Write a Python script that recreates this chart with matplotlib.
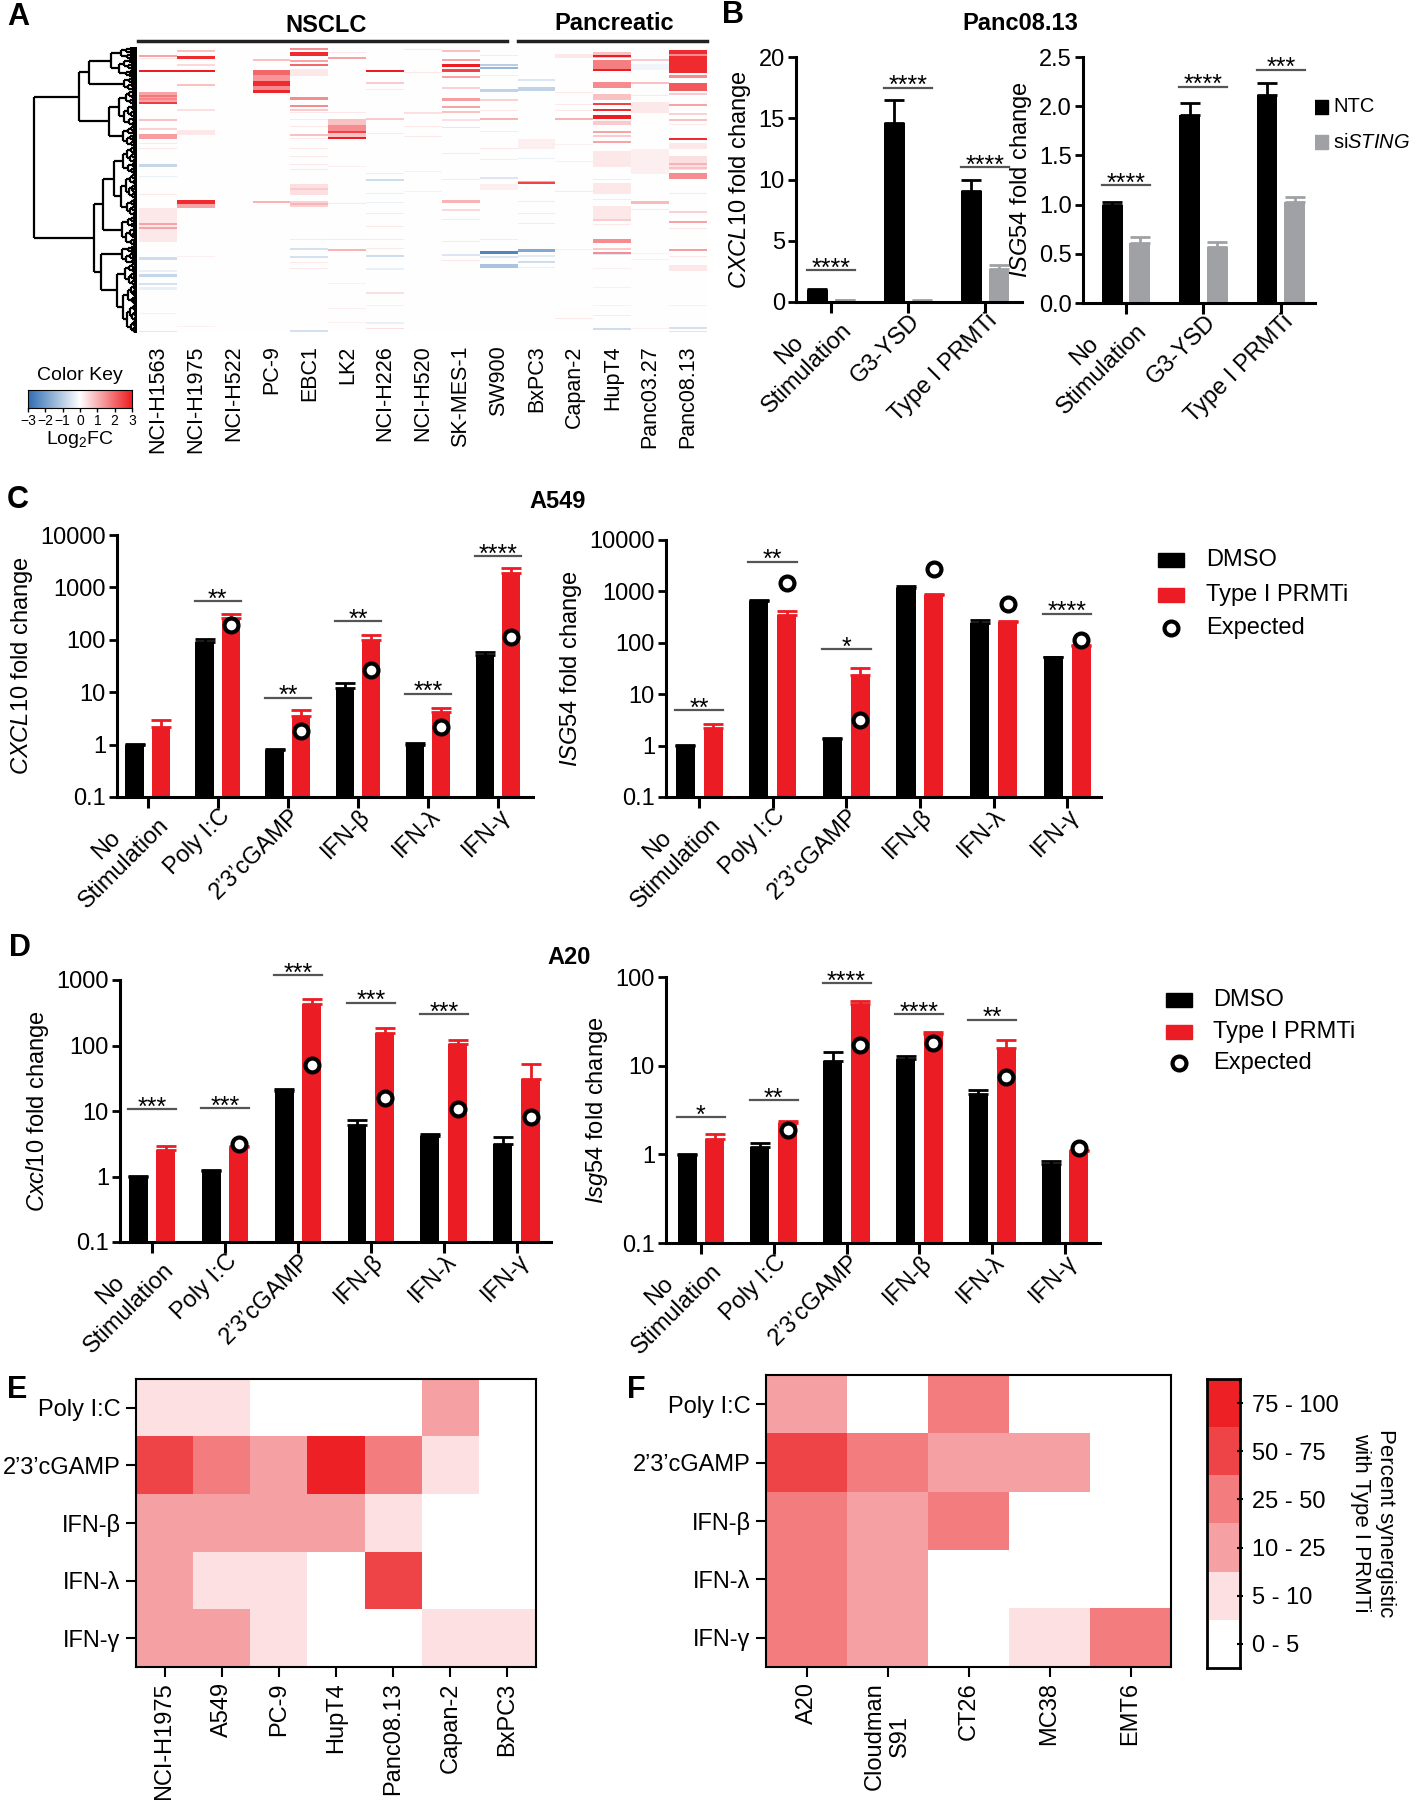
import numpy as np
import matplotlib
matplotlib.use('Agg')
import matplotlib.pyplot as plt
from matplotlib.colors import LinearSegmentedColormap, ListedColormap
from matplotlib.collections import LineCollection
from matplotlib.patches import Rectangle
from matplotlib.transforms import ScaledTranslation

plt.rcParams['font.family'] = ['Liberation Sans', 'DejaVu Sans']
plt.rcParams['mathtext.fontset'] = 'custom'
plt.rcParams['mathtext.rm'] = 'Liberation Sans'
plt.rcParams['mathtext.it'] = 'Liberation Sans:italic'
plt.rcParams['mathtext.bf'] = 'Liberation Sans:bold'

# ---------------- DATA ----------------
# Panel A: heatmap of log2FC, bands per cell line (row_start, row_end, value)
A_CELLS = ['NCI-H1563', 'NCI-H1975', 'NCI-H522', 'PC-9', 'EBC1', 'LK2', 'NCI-H226',
           'NCI-H520', 'SK-MES-1', 'SW900', 'BxPC3', 'Capan-2', 'HupT4', 'Panc03.27', 'Panc08.13']
N_ROWS = 288
A_BANDS = {
    'NCI-H1563': [(8, 9, 1.2), (11, 11, 0.3), (23, 24, 3.0), (45, 54, 1.2), (48, 49, 1.8), (51, 52, 1.6),
                  (55, 56, 2.6), (73, 74, 0.8), (82, 83, 0.6), (88, 92, 1.3), (97, 97, 0.3), (102, 102, 0.3),
                  (118, 120, -0.8), (130, 130, -0.3), (148, 148, 0.3), (162, 195, 0.3), (177, 178, 1.2),
                  (181, 182, 1.2), (211, 213, -0.7), (225, 226, -0.3), (229, 231, -0.8), (238, 239, -0.6),
                  (242, 244, -0.3), (268, 268, 0.2), (286, 286, 0.4)],
    'NCI-H1975': [(3, 4, 0.8), (9, 11, 2.8), (17, 18, 0.5), (23, 24, 3.0), (37, 38, 0.8), (62, 63, 0.4),
                  (84, 88, 0.3), (154, 157, 2.8), (158, 161, 1.2), (210, 210, 0.2), (281, 281, 0.2)],
    'NCI-H522': [],
    'PC-9': [(12, 13, 0.8), (23, 27, 2.0), (28, 33, 1.4), (34, 38, 2.8), (39, 42, 1.5), (43, 45, 2.9),
             (155, 156, 1.0)],
    'EBC1': [(1, 2, 1.5), (5, 8, 2.8), (13, 14, 1.2), (17, 18, 2.0), (22, 28, 0.3), (50, 52, 1.5),
             (58, 59, 1.5), (62, 63, 0.7), (65, 65, 0.3), (73, 73, 0.3), (80, 80, 0.3), (88, 89, 0.8),
             (92, 92, 0.3), (102, 102, 0.3), (110, 110, 0.3), (118, 118, 0.3), (123, 123, 0.3),
             (138, 148, 0.4), (142, 143, 0.7), (155, 160, 0.6), (157, 158, 1.0), (193, 193, -0.3),
             (202, 203, -0.6), (210, 211, -0.6), (217, 217, 0.3), (223, 223, 0.3), (285, 286, -0.6)],
    'LK2': [(5, 5, 0.3), (10, 11, 1.2), (65, 65, 0.3), (73, 78, 0.8), (79, 84, 1.5), (85, 86, 2.5),
            (87, 90, 0.8), (91, 92, 3.0), (120, 120, 0.2), (157, 157, 0.3), (193, 193, 0.3),
            (203, 204, 1.0), (238, 238, 0.2), (263, 263, 0.2), (277, 277, 0.2)],
    'NCI-H226': [(23, 24, 3.0), (35, 36, 0.7), (42, 42, 0.3), (72, 73, 0.7), (87, 87, 0.3), (127, 127, 0.3),
                 (133, 134, -0.7), (147, 147, 0.3), (156, 156, -0.3), (167, 167, 0.3), (180, 180, 0.3),
                 (193, 193, -0.3), (202, 202, 0.3), (209, 210, -0.7), (223, 224, -0.3), (247, 248, 0.4),
                 (260, 260, 0.2), (277, 278, -0.3), (283, 283, 0.4)],
    'NCI-H520': [(2, 2, 0.3), (25, 25, 0.3), (65, 66, 0.4), (80, 80, 0.3), (90, 90, 0.3), (125, 125, 0.2),
                 (145, 145, 0.2)],
    'SK-MES-1': [(3, 4, 0.8), (12, 13, 1.2), (17, 19, 3.0), (22, 24, 2.5), (29, 30, 1.2), (40, 41, 0.6),
                 (51, 53, 1.3), (59, 60, 1.2), (64, 65, 0.8), (73, 74, 0.4), (81, 81, 0.4), (107, 107, 0.3),
                 (133, 133, 0.3), (154, 156, 1.0), (163, 164, 0.5), (173, 173, 0.3), (195, 195, 0.3),
                 (208, 209, -0.5), (214, 214, 0.3)],
    'SW900': [(8, 8, 0.3), (17, 18, -1.0), (20, 21, -1.5), (28, 28, -0.3), (42, 44, -0.9), (52, 53, 0.6),
              (63, 63, 0.3), (72, 73, 1.0), (85, 85, -0.3), (102, 102, 0.3), (113, 113, -0.3),
              (131, 132, -0.5), (138, 143, 0.2), (193, 193, 0.3), (205, 207, -2.5), (210, 211, -0.5),
              (219, 222, -1.2)],
    'BxPC3': [(32, 33, -0.5), (40, 43, -0.9), (93, 102, 0.2), (112, 112, -0.3), (135, 135, 1.2),
              (136, 137, 2.5), (155, 155, 0.3), (167, 167, 0.3), (177, 177, 0.3), (203, 205, -1.8),
              (209, 210, -0.4), (215, 217, -0.7), (222, 222, -0.3)],
    'Capan-2': [(7, 10, 0.3), (45, 45, 0.3), (57, 57, 0.3), (63, 63, 0.3), (72, 73, 1.0), (98, 98, 0.2),
                (115, 115, 0.2), (145, 145, 0.3), (203, 203, 0.2), (273, 273, 0.3)],
    'HupT4': [(5, 10, 0.8), (8, 9, 3.0), (13, 21, 1.7), (22, 23, 3.0), (35, 40, 1.5), (47, 52, 0.8),
              (56, 57, 2.5), (62, 63, 2.8), (68, 72, 3.0), (75, 78, 0.7), (85, 86, 1.2), (89, 90, 0.7),
              (95, 96, 1.2), (105, 120, 0.3), (133, 133, 0.3), (137, 147, 0.3), (153, 153, 0.3),
              (160, 172, 0.3), (173, 174, 0.7), (178, 178, 0.3), (193, 196, 1.5), (202, 203, 0.7),
              (206, 207, 1.5), (208, 208, -0.4), (223, 223, 0.2), (242, 242, 0.2), (260, 260, 0.2),
              (270, 270, -0.3), (283, 284, -0.7)],
    'Panc03.27': [(12, 13, 0.7), (17, 22, -0.2), (35, 36, 0.8), (48, 48, 0.3), (55, 65, 0.3),
                  (103, 127, 0.2), (155, 157, 0.9), (163, 163, 0.3), (207, 207, 0.2), (213, 213, 0.2),
                  (283, 283, 0.2)],
    'Panc08.13': [(3, 25, 2.8), (7, 8, 1.5), (28, 30, 1.5), (36, 43, 2.2), (46, 47, 0.7), (57, 58, 1.2),
                  (66, 67, 0.6), (73, 74, 0.8), (78, 78, 0.3), (92, 93, 2.8), (97, 102, 0.3),
                  (110, 123, 0.4), (117, 118, 1.0), (121, 122, 0.8), (127, 132, 1.5), (147, 147, 0.3),
                  (165, 166, 0.6), (175, 176, 1.2), (182, 182, 0.3), (203, 204, 1.3), (210, 210, 0.3),
                  (215, 215, 0.3), (220, 225, 0.3), (260, 260, 0.2), (282, 283, -0.6), (286, 286, -0.5)],
}
# dendrogram: top-level clusters (row ranges, heights)
A_DENDRO = ('n', 101,
            ('n', 57,
             ('n', 47, ('r', 0, 30, 26), ('r', 30, 44, 13)),
             ('n', 27, ('r', 44, 80, 18), ('r', 80, 100, 14))),
            ('n', 42,
             ('n', 33, ('r', 100, 170, 23), ('r', 170, 200, 15)),
             ('n', 35, ('r', 200, 218, 15),
              ('n', 20, ('r', 218, 240, 12), ('r', 240, 288, 14)))))

# Panel B (Panc08.13)
B_CATS = ['No\nStimulation', 'G3-YSD', 'Type I PRMTi']
B_CXCL10_NTC = [1.0, 14.6, 9.1]
B_CXCL10_NTC_ERR = [0.08, 1.85, 0.9]
B_CXCL10_SI = [0.15, 0.1, 2.7]
B_CXCL10_SI_ERR = [0.04, 0.03, 0.35]
B_CXCL10_SIG_Y = [2.6, 17.5, 11.0]
B_CXCL10_SIG = ['****', '****', '****']
B_ISG54_NTC = [1.0, 1.91, 2.11]
B_ISG54_NTC_ERR = [0.03, 0.12, 0.13]
B_ISG54_SI = [0.61, 0.57, 1.03]
B_ISG54_SI_ERR = [0.06, 0.05, 0.05]
B_ISG54_SIG_Y = [1.2, 2.2, 2.37]
B_ISG54_SIG = ['****', '****', '***']

# Panels C / D
STIM = ['No\nStimulation', 'Poly I:C', '2\u20193\u2019cGAMP', 'IFN-\u03b2', 'IFN-\u03bb', 'IFN-\u03b3']
NAN = np.nan
C_CXCL10_DMSO = [1.0, 89, 0.78, 11.8, 0.99, 51]
C_CXCL10_DMSO_ERR = [0.03, 13, 0.04, 3.2, 0.1, 8]
C_CXCL10_PRMT = [2.2, 257, 3.5, 99, 4.1, 1905]
C_CXCL10_PRMT_ERR = [0.8, 52, 1.0, 24, 0.8, 400]
C_CXCL10_EXP = [NAN, 195, 1.8, 26, 2.2, 115]
C_CXCL10_SIG_Y = [NAN, 540, 7.9, 230, 9.4, 3900]
C_CXCL10_SIG = ['', '**', '**', '**', '***', '****']

C_ISG54_DMSO = [1.0, 660, 1.37, 1150, 245, 52]
C_ISG54_DMSO_ERR = [0.02, 30, 0.05, 150, 30, 2]
C_ISG54_PRMT = [2.2, 350, 23.5, 870, 253, 87]
C_ISG54_PRMT_ERR = [0.4, 70, 9.5, 20, 8, 3]
C_ISG54_EXP = [NAN, 1470, 3.1, 2700, 560, 115]
C_ISG54_SIG_Y = [4.9, 3800, 76, NAN, NAN, 370]
C_ISG54_SIG = ['**', '**', '*', '', '', '****']

D_CXCL10_DMSO = [1.0, 1.22, 20.3, 6.15, 4.17, 3.16]
D_CXCL10_DMSO_ERR = [0.02, 0.04, 1.7, 1.15, 0.33, 0.8]
D_CXCL10_PRMT = [2.56, 2.8, 430, 154, 105, 31]
D_CXCL10_PRMT_ERR = [0.38, 0.1, 89, 31, 17, 21]
D_CXCL10_EXP = [NAN, 3.12, 50.6, 15.7, 10.7, 8.05]
D_CXCL10_SIG_Y = [10.8, 11, 1190, 450, 302, NAN]
D_CXCL10_SIG = ['***', '***', '***', '***', '***', '']

D_ISG54_DMSO = [0.99, 1.22, 11.2, 11.9, 4.83, 0.77]
D_ISG54_DMSO_ERR = [0.03, 0.11, 3.1, 0.9, 0.47, 0.08]
D_ISG54_PRMT = [1.49, 2.26, 50, 22.8, 16, 1.1]
D_ISG54_PRMT_ERR = [0.22, 0.12, 4, 1.0, 3.5, 0.02]
D_ISG54_EXP = [NAN, 1.87, 17, 17.9, 7.4, 1.18]
D_ISG54_SIG_Y = [2.61, 4.06, 85.5, 38, 33, NAN]
D_ISG54_SIG = ['*', '**', '****', '****', '**', '']

# Panels E / F: synergy category (0:0-5, 1:5-10, 2:10-25, 3:25-50, 4:50-75, 5:75-100)
SYN_ROWS = ['Poly I:C', '2\u20193\u2019cGAMP', 'IFN-\u03b2', 'IFN-\u03bb', 'IFN-\u03b3']
CAT_LABELS = ['0 - 5', '5 - 10', '10 - 25', '25 - 50', '50 - 75', '75 - 100']
E_COLS = ['NCI-H1975', 'A549', 'PC-9', 'HupT4', 'Panc08.13', 'Capan-2', 'BxPC3']
E_VALUES = [[1, 1, 0, 0, 0, 2, 0],
            [4, 3, 2, 5, 3, 1, 0],
            [2, 2, 2, 2, 1, 0, 0],
            [2, 1, 1, 0, 4, 0, 0],
            [2, 2, 1, 0, 0, 1, 1]]
F_COLS = ['A20', 'Cloudman\nS91', 'CT26', 'MC38', 'EMT6']
F_VALUES = [[2, 0, 3, 0, 0],
            [4, 3, 2, 2, 0],
            [3, 2, 3, 0, 0],
            [3, 2, 0, 0, 0],
            [3, 2, 0, 1, 3]]

# ---------------- STYLE ----------------
RED = '#ec1c24'
GREY = '#9fa1a4'
CAT_COLORS = ['#ffffff', '#fde0e1', '#f5a0a3', '#f37c7f', '#ef4447', '#ed2026']
HEAT_CMAP = LinearSegmentedColormap.from_list('key', ['#2f6db3', '#ffffff', '#ee1d23'])
FS = 17

W, H = 1416, 1800
fig = plt.figure(figsize=(W / 100, H / 100), dpi=100)


def box(x0, y0, x1, y1):
    return fig.add_axes([x0 / W, 1 - y1 / H, (x1 - x0) / W, (y1 - y0) / H])


ov = fig.add_axes([0, 0, 1, 1])
ov.set_xlim(0, W)
ov.set_ylim(H, 0)
ov.axis('off')

# ---------------- PANEL A ----------------
M = np.zeros((N_ROWS, len(A_CELLS)))
for j, c in enumerate(A_CELLS):
    for s, e, v in A_BANDS[c]:
        M[s:e + 1, j] = v

axh = box(139, 47, 707, 333)
axh.imshow(M, cmap=HEAT_CMAP, vmin=-3, vmax=3, aspect='auto', interpolation='nearest')
axh.set_xticks(range(len(A_CELLS)))
axh.set_xticklabels(A_CELLS, rotation=90, fontsize=15.5, va='top')
axh.tick_params(axis='x', length=0, pad=9)
axh.set_yticks([])
for s in axh.spines.values():
    s.set_visible(False)

# dendrogram
segs = []


def draw_range(a, b, h, depth=0):
    n = b - a
    if n == 1:
        return a + 0.5, 0.0
    frac = 0.4 if depth % 2 == 0 else 0.6
    m = a + min(n - 1, max(1, int(round(n * frac))))
    k1, k2 = m - a, b - m
    h1 = h * (0.45 + 0.4 * k1 / n) if k1 > 1 else 0.0
    h2 = h * (0.45 + 0.4 * k2 / n) if k2 > 1 else 0.0
    y1, hh1 = draw_range(a, m, h1, depth + 1)
    y2, hh2 = draw_range(m, b, h2, depth + 1)
    segs.extend([[(hh1, y1), (h, y1)], [(h, y1), (h, y2)], [(h, y2), (hh2, y2)]])
    return (y1 + y2) / 2, h


def draw_node(node):
    if node[0] == 'r':
        return draw_range(node[1], node[2], node[3])
    _, h, left, right = node
    y1, h1 = draw_node(left)
    y2, h2 = draw_node(right)
    segs.extend([[(h1, y1), (h, y1)], [(h, y1), (h, y2)], [(h, y2), (h2, y2)]])
    return (y1 + y2) / 2, h


draw_node(A_DENDRO)
axd = box(31, 47, 137, 333)
axd.add_collection(LineCollection(segs, colors='black', linewidths=1.6))
axd.set_xlim(104, 0)
axd.set_ylim(N_ROWS, 0)
axd.axis('off')

# color key
ck = box(28, 390, 132, 408)
ck.imshow(np.linspace(-3, 3, 256).reshape(1, -1), cmap=HEAT_CMAP, aspect='auto', extent=[-3, 3, 0, 1])
ck.set_xticks(range(-3, 4))
ck.set_xticklabels(['\u22123', '\u22122', '\u22121', '0', '1', '2', '3'], fontsize=10)
ck.tick_params(axis='x', length=3, width=1, pad=1)
ck.set_yticks([])
for s in ck.spines.values():
    s.set_linewidth(0.8)
ov.text(80, 376, 'Color Key', ha='center', va='center', fontsize=14)
ov.text(80, 440, 'Log$_2$FC', ha='center', va='center', fontsize=14)

ov.plot([138, 507], [41, 41], color='#222222', lw=2.5)
ov.plot([518, 707], [41, 41], color='#222222', lw=2.5)
ov.text(326, 25, 'NSCLC', ha='center', va='center', fontsize=17, fontweight='bold')
ov.text(614, 24, 'Pancreatic', ha='center', va='center', fontsize=17, fontweight='bold')


# ---------------- BAR HELPERS ----------------
def bar_panel(ax, v1, e1, v2, e2, c2, xlim, ylim, yticks, ylabels, cats, ylabel,
              exp=None, sig_y=None, sig=None, log=True, off=0.19, width=0.26, half=0.33):
    n = len(v1)
    x = np.arange(n)
    if log:
        ax.set_yscale('log')
    bottom = 1e-3 if log else 0
    ax.bar(x - off, np.array(v1) - bottom, width, bottom=bottom, color='black', zorder=2)
    ax.bar(x + off, np.array(v2) - bottom, width, bottom=bottom, color=c2, zorder=2)
    ax.errorbar(x - off, v1, yerr=[np.zeros(n), e1], fmt='none', ecolor='black', elinewidth=2,
                capsize=7, capthick=2, zorder=1)
    ax.errorbar(x + off, v2, yerr=[np.zeros(n), e2], fmt='none', ecolor=c2, elinewidth=2,
                capsize=7, capthick=2, zorder=1)
    if exp is not None:
        ax.plot(x + off, exp, 'o', mfc='white', mec='black', mew=3, ms=10, zorder=4, ls='none')
    if sig is not None:
        for i in range(n):
            if sig[i]:
                ax.plot([i - half, i + half], [sig_y[i], sig_y[i]], color='#555555', lw=1.6, zorder=3,
                        clip_on=False)
                ax.annotate(sig[i], (i, sig_y[i]), xytext=(0, -4), textcoords='offset points',
                            ha='center', va='baseline', fontsize=18, annotation_clip=False)
    ax.set_xlim(*xlim)
    ax.set_ylim(*ylim)
    ax.set_yticks(yticks)
    ax.set_yticklabels(ylabels)
    ax.yaxis.set_minor_locator(matplotlib.ticker.NullLocator())
    for s in ['top', 'right']:
        ax.spines[s].set_visible(False)
    for s in ['left', 'bottom']:
        ax.spines[s].set_linewidth(2.2)
    ax.tick_params(axis='y', length=6, width=2, labelsize=FS, pad=2)
    ax.tick_params(axis='x', length=8, width=2.2, labelsize=FS, pad=3.5)
    ax.set_xticks(x)
    ax.set_xticklabels(cats, rotation=45, ha='right', va='center', rotation_mode='anchor',
                       multialignment='center')
    shift = ScaledTranslation(0.09, 0, fig.dpi_scale_trans)
    for lbl in ax.get_xticklabels():
        lbl.set_transform(lbl.get_transform() + shift)
    ax.set_ylabel(ylabel, fontsize=FS, labelpad=4)


LOG_LABELS = {0.1: '0.1', 1: '1', 10: '10', 100: '100', 1000: '1000', 10000: '10000'}

# ---------------- PANEL B ----------------
ax = box(796, 57, 1022, 302)
bar_panel(ax, B_CXCL10_NTC, B_CXCL10_NTC_ERR, B_CXCL10_SI, B_CXCL10_SI_ERR, GREY,
          (-0.455, 2.48), (0, 20), [0, 5, 10, 15, 20], ['0', '5', '10', '15', '20'],
          B_CATS, r'$\it{CXCL10}$ fold change',
          sig_y=B_CXCL10_SIG_Y, sig=B_CXCL10_SIG, log=False, off=0.18, width=0.27, half=0.31)
ax = box(1083, 57, 1315, 303)
bar_panel(ax, B_ISG54_NTC, B_ISG54_NTC_ERR, B_ISG54_SI, B_ISG54_SI_ERR, GREY,
          (-0.555, 2.44), (0, 2.5), [0, 0.5, 1.0, 1.5, 2.0, 2.5],
          ['0.0', '0.5', '1.0', '1.5', '2.0', '2.5'],
          B_CATS, r'$\it{ISG54}$ fold change',
          sig_y=B_ISG54_SIG_Y, sig=B_ISG54_SIG, log=False, off=0.18, width=0.27, half=0.31)
ov.text(1020, 23, 'Panc08.13', ha='center', va='center', fontsize=FS, fontweight='bold')
ov.add_patch(Rectangle((1310, 100), 18, 14, color='black'))
ov.add_patch(Rectangle((1310, 135), 18, 14, color=GREY))
ov.text(1333, 107, 'NTC', ha='left', va='center', fontsize=14.5)
ov.text(1333, 142, r'si$\it{STING}$', ha='left', va='center', fontsize=14.5)

# ---------------- PANEL C ----------------
yt = [0.1, 1, 10, 100, 1000, 10000]
ax = box(117, 535, 533, 797)
bar_panel(ax, C_CXCL10_DMSO, C_CXCL10_DMSO_ERR, C_CXCL10_PRMT, C_CXCL10_PRMT_ERR, RED,
          (-0.44, 5.5), (0.1, 10000), yt, [LOG_LABELS[v] for v in yt], STIM,
          r'$\it{CXCL10}$ fold change', exp=C_CXCL10_EXP, sig_y=C_CXCL10_SIG_Y, sig=C_CXCL10_SIG)
ax = box(666, 540, 1101, 797)
bar_panel(ax, C_ISG54_DMSO, C_ISG54_DMSO_ERR, C_ISG54_PRMT, C_ISG54_PRMT_ERR, RED,
          (-0.45, 5.46), (0.1, 10000), yt, [LOG_LABELS[v] for v in yt], STIM,
          r'$\it{ISG54}$ fold change', exp=C_ISG54_EXP, sig_y=C_ISG54_SIG_Y, sig=C_ISG54_SIG)
ov.text(558, 502, 'A549', ha='center', va='center', fontsize=FS, fontweight='bold')


def legend_block(x, ys, txtx):
    ov.add_patch(Rectangle((x, ys[0] - 7), 26, 14, color='black'))
    ov.add_patch(Rectangle((x, ys[1] - 7), 26, 14, color=RED))
    ov.plot([x + 13], [ys[2]], 'o', mfc='white', mec='black', mew=3, ms=10)
    for y, t in zip(ys, ['DMSO', 'Type I PRMTi', 'Expected']):
        ov.text(txtx, y, t, ha='left', va='center', fontsize=FS)


legend_block(1158, [560, 595, 628], 1206)

# ---------------- PANEL D ----------------
yt = [0.1, 1, 10, 100, 1000]
ax = box(120, 980, 551, 1242)
bar_panel(ax, D_CXCL10_DMSO, D_CXCL10_DMSO_ERR, D_CXCL10_PRMT, D_CXCL10_PRMT_ERR, RED,
          (-0.44, 5.47), (0.1, 1000), yt, [LOG_LABELS[v] for v in yt], STIM,
          r'$\it{Cxcl10}$ fold change', exp=D_CXCL10_EXP, sig_y=D_CXCL10_SIG_Y, sig=D_CXCL10_SIG)
yt = [0.1, 1, 10, 100]
ax = box(666, 977, 1100, 1243)
bar_panel(ax, D_ISG54_DMSO, D_ISG54_DMSO_ERR, D_ISG54_PRMT, D_ISG54_PRMT_ERR, RED,
          (-0.48, 5.48), (0.1, 100), yt, [LOG_LABELS[v] for v in yt], STIM,
          r'$\it{Isg54}$ fold change', exp=D_ISG54_EXP, sig_y=D_ISG54_SIG_Y, sig=D_ISG54_SIG)
ov.text(569, 957, 'A20', ha='center', va='center', fontsize=FS, fontweight='bold')
legend_block(1166, [1000, 1032, 1063], 1213)

# ---------------- PANELS E / F ----------------
cat_cmap = ListedColormap(CAT_COLORS)


def cat_heat(ax, vals, cols):
    ax.imshow(np.array(vals), cmap=cat_cmap, vmin=-0.5, vmax=5.5, aspect='auto', interpolation='nearest')
    ax.set_xticks(range(len(cols)))
    ax.set_xticklabels(cols, rotation=90, fontsize=FS, va='top', ha='center')
    ax.set_yticks(range(len(SYN_ROWS)))
    ax.set_yticklabels(SYN_ROWS, fontsize=FS)
    ax.tick_params(length=7, width=1.5, direction='out', pad=4)
    for s in ax.spines.values():
        s.set_linewidth(1.5)


cat_heat(box(136, 1379, 536, 1667), E_VALUES, E_COLS)
cat_heat(box(766, 1375, 1171, 1667), F_VALUES, F_COLS)

cax = box(1207, 1379, 1240, 1668)
cax.imshow(np.arange(6)[::-1].reshape(-1, 1), cmap=cat_cmap, vmin=-0.5, vmax=5.5, aspect='auto',
           extent=[0, 1, 0, 6], interpolation='nearest')
cax.set_xticks([])
cax.yaxis.tick_right()
cax.set_yticks(np.arange(6) + 0.5)
cax.set_yticklabels(CAT_LABELS, fontsize=FS)
cax.tick_params(axis='y', length=5, width=1.5, direction='inout', pad=6)
for s in cax.spines.values():
    s.set_linewidth(2)
ov.text(1373, 1523, 'Percent synergistic\nwith Type I PRMTi', rotation=270, ha='center', va='center',
        fontsize=16, multialignment='center')

# panel letters
for letter, (x, y) in {'A': (7, 17), 'B': (722, 15), 'C': (7, 500), 'D': (9, 948),
                       'E': (7, 1390), 'F': (627, 1390)}.items():
    ov.text(x, y, letter, ha='left', va='center', fontsize=22, fontweight='bold')

fig.savefig('out.png', dpi=100)
